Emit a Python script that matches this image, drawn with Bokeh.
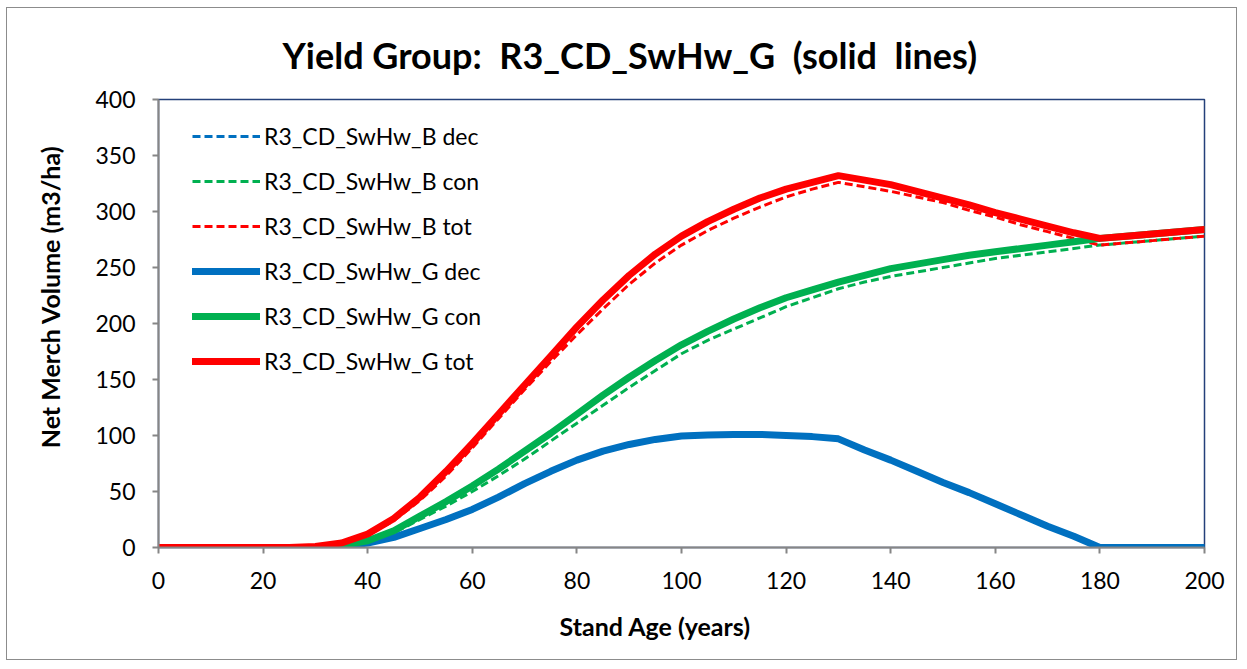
from bokeh.plotting import figure
from bokeh.models import Range1d, FixedTicker, Legend, LegendItem, Title
from bokeh.embed import file_html
from bokeh.resources import INLINE

# ---- data ----
ages = [0, 5, 10, 15, 20, 25, 30, 35, 40, 45, 50, 55, 60, 65, 70, 75, 80, 85, 90, 95,
        100, 105, 110, 115, 120, 125, 130, 135, 140, 145, 150, 155, 160, 165, 170, 175,
        180, 185, 190, 195, 200]

b_dec = [0, 0, 0, 0, 0, 0, 0, 1, 4, 9, 17, 25, 34, 45, 57, 68, 78, 86, 92, 96.5,
         99.5, 100.5, 101, 101, 100, 99, 97, 87, 78, 68, 58, 49, 39, 29, 19, 10,
         0, 0, 0, 0, 0]
b_con = [0, 0, 0, 0, 0, 0, 0, 2, 5, 13, 25, 37, 50, 64, 79, 95, 111, 127, 143, 158,
         173, 185, 195, 205, 215, 223, 231, 237, 242, 246, 250, 254, 258, 261, 264, 267,
         270, 272, 274, 276, 278]
b_tot = [0, 0, 0, 0, 0, 0, 1, 4, 11, 24, 42, 64, 89, 115, 141, 166, 190, 213, 235, 254,
         270, 283, 294, 304, 313, 320, 326, 322, 318, 313, 308, 301, 295, 288, 282, 276,
         270, 272, 274, 276, 278]

g_dec = [0, 0, 0, 0, 0, 0, 0, 1, 4, 9, 17, 25, 34, 45, 57, 68, 78, 86, 92, 96.5,
         99.5, 100.5, 101, 101, 100, 99, 97, 87, 78, 68, 58, 49, 39, 29, 19, 10,
         0, 0, 0, 0, 0]
g_con = [0, 0, 0, 0, 0, 0, 0, 2, 6, 15, 28, 41, 55, 70, 86, 102, 119, 136, 152, 167,
         181, 193, 204, 214, 223, 230, 237, 243, 249, 253, 257, 261, 264, 267, 270, 273,
         276, 278, 280, 282, 284]
g_tot = [0, 0, 0, 0, 0, 0, 1, 4, 12, 26, 45, 68, 93, 119, 145, 171, 197, 221, 243, 262,
         278, 291, 302, 312, 320, 326, 332, 328, 324, 318, 312, 306, 299, 293, 287, 281,
         276, 278, 280, 282, 284]

series_names = ["R3_CD_SwHw_B dec", "R3_CD_SwHw_B con", "R3_CD_SwHw_B tot",
                "R3_CD_SwHw_G dec", "R3_CD_SwHw_G con", "R3_CD_SwHw_G tot"]
x_ticks = [0, 20, 40, 60, 80, 100, 120, 140, 160, 180, 200]
y_ticks = [0, 50, 100, 150, 200, 250, 300, 350, 400]

title_text = "Yield Group:\u00a0 R3_CD_SwHw_G\u00a0 (solid\u00a0 lines)"
x_label = "Stand Age (years)"
y_label = "Net Merch Volume (m3/ha)"

BLUE, GREEN, RED = "#0070C0", "#00B050", "#FF0000"
FONT = "Lato"

p = figure(width=1231, height=653, x_range=Range1d(0, 200), y_range=Range1d(0, 400),
           output_backend="svg", toolbar_location=None,
           min_border_left=148, min_border_right=34, min_border_top=91, min_border_bottom=114)
p.styles = {"border": "1.5px solid #8c8c8c", "margin-left": "6px", "margin-top": "7px"}

p.xgrid.visible = False
p.ygrid.visible = False
p.outline_line_color = "#24407A"
p.outline_line_width = 1.5

for ax, ticks in ((p.xaxis, x_ticks), (p.yaxis, y_ticks)):
    ax.ticker = FixedTicker(ticks=ticks)
    ax.axis_line_color = "#868686"
    ax.axis_line_width = 2
    ax.major_tick_line_color = "#868686"
    ax.major_tick_line_width = 2
    ax.major_tick_out = 6
    ax.major_tick_in = 0
    ax.minor_tick_out = 0
    ax.minor_tick_in = 0
    ax.major_label_text_font = FONT
    ax.major_label_text_font_size = "23px"
    ax.major_label_text_color = "#000000"

p.xaxis.major_label_standoff = 18
p.yaxis.major_label_standoff = 17

# axis titles (placed as side titles so they can sit off-centre like the reference)
xt = Title(text=x_label, align="left", offset=401, vertical_align="middle", standoff=37,
           text_font=FONT, text_font_style="bold", text_font_size="25px", text_color="#000000")
yt = Title(text=y_label, align="right", offset=46, vertical_align="middle", standoff=53,
           text_font=FONT, text_font_style="bold", text_font_size="25px", text_color="#000000")
p.add_layout(xt, "below")
p.add_layout(yt, "left")

r_bdec = p.line(ages, b_dec, line_color=BLUE, line_width=3, line_dash="8 4")
r_bcon = p.line(ages, b_con, line_color=GREEN, line_width=3, line_dash="8 4")
r_btot = p.line(ages, b_tot, line_color=RED, line_width=3, line_dash="8 4")
r_gdec = p.line(ages, g_dec, line_color=BLUE, line_width=7, line_cap="round", line_join="round")
r_gcon = p.line(ages, g_con, line_color=GREEN, line_width=7, line_cap="round", line_join="round")
r_gtot = p.line(ages, g_tot, line_color=RED, line_width=7, line_cap="round", line_join="round")

renderers = [r_bdec, r_bcon, r_btot, r_gdec, r_gcon, r_gtot]
legend = Legend(items=[LegendItem(label=n, renderers=[r]) for n, r in zip(series_names, renderers)],
                location=(34, 171), glyph_width=68, glyph_height=30, label_height=30,
                label_standoff=4, spacing=15, padding=0, margin=0, border_line_alpha=0,
                background_fill_alpha=0, label_text_font=FONT,
                label_text_font_size="23px", label_text_color="#000000")
p.add_layout(legend)

p.title.text = title_text
p.title.align = "left"
p.title.offset = 124
p.title.vertical_align = "middle"
p.title.standoff = 44
p.title.text_font = FONT
p.title.text_font_style = "bold"
p.title.text_font_size = "36px"
p.title.text_color = "#000000"

open("out.html", "w").write(file_html(p, INLINE))
